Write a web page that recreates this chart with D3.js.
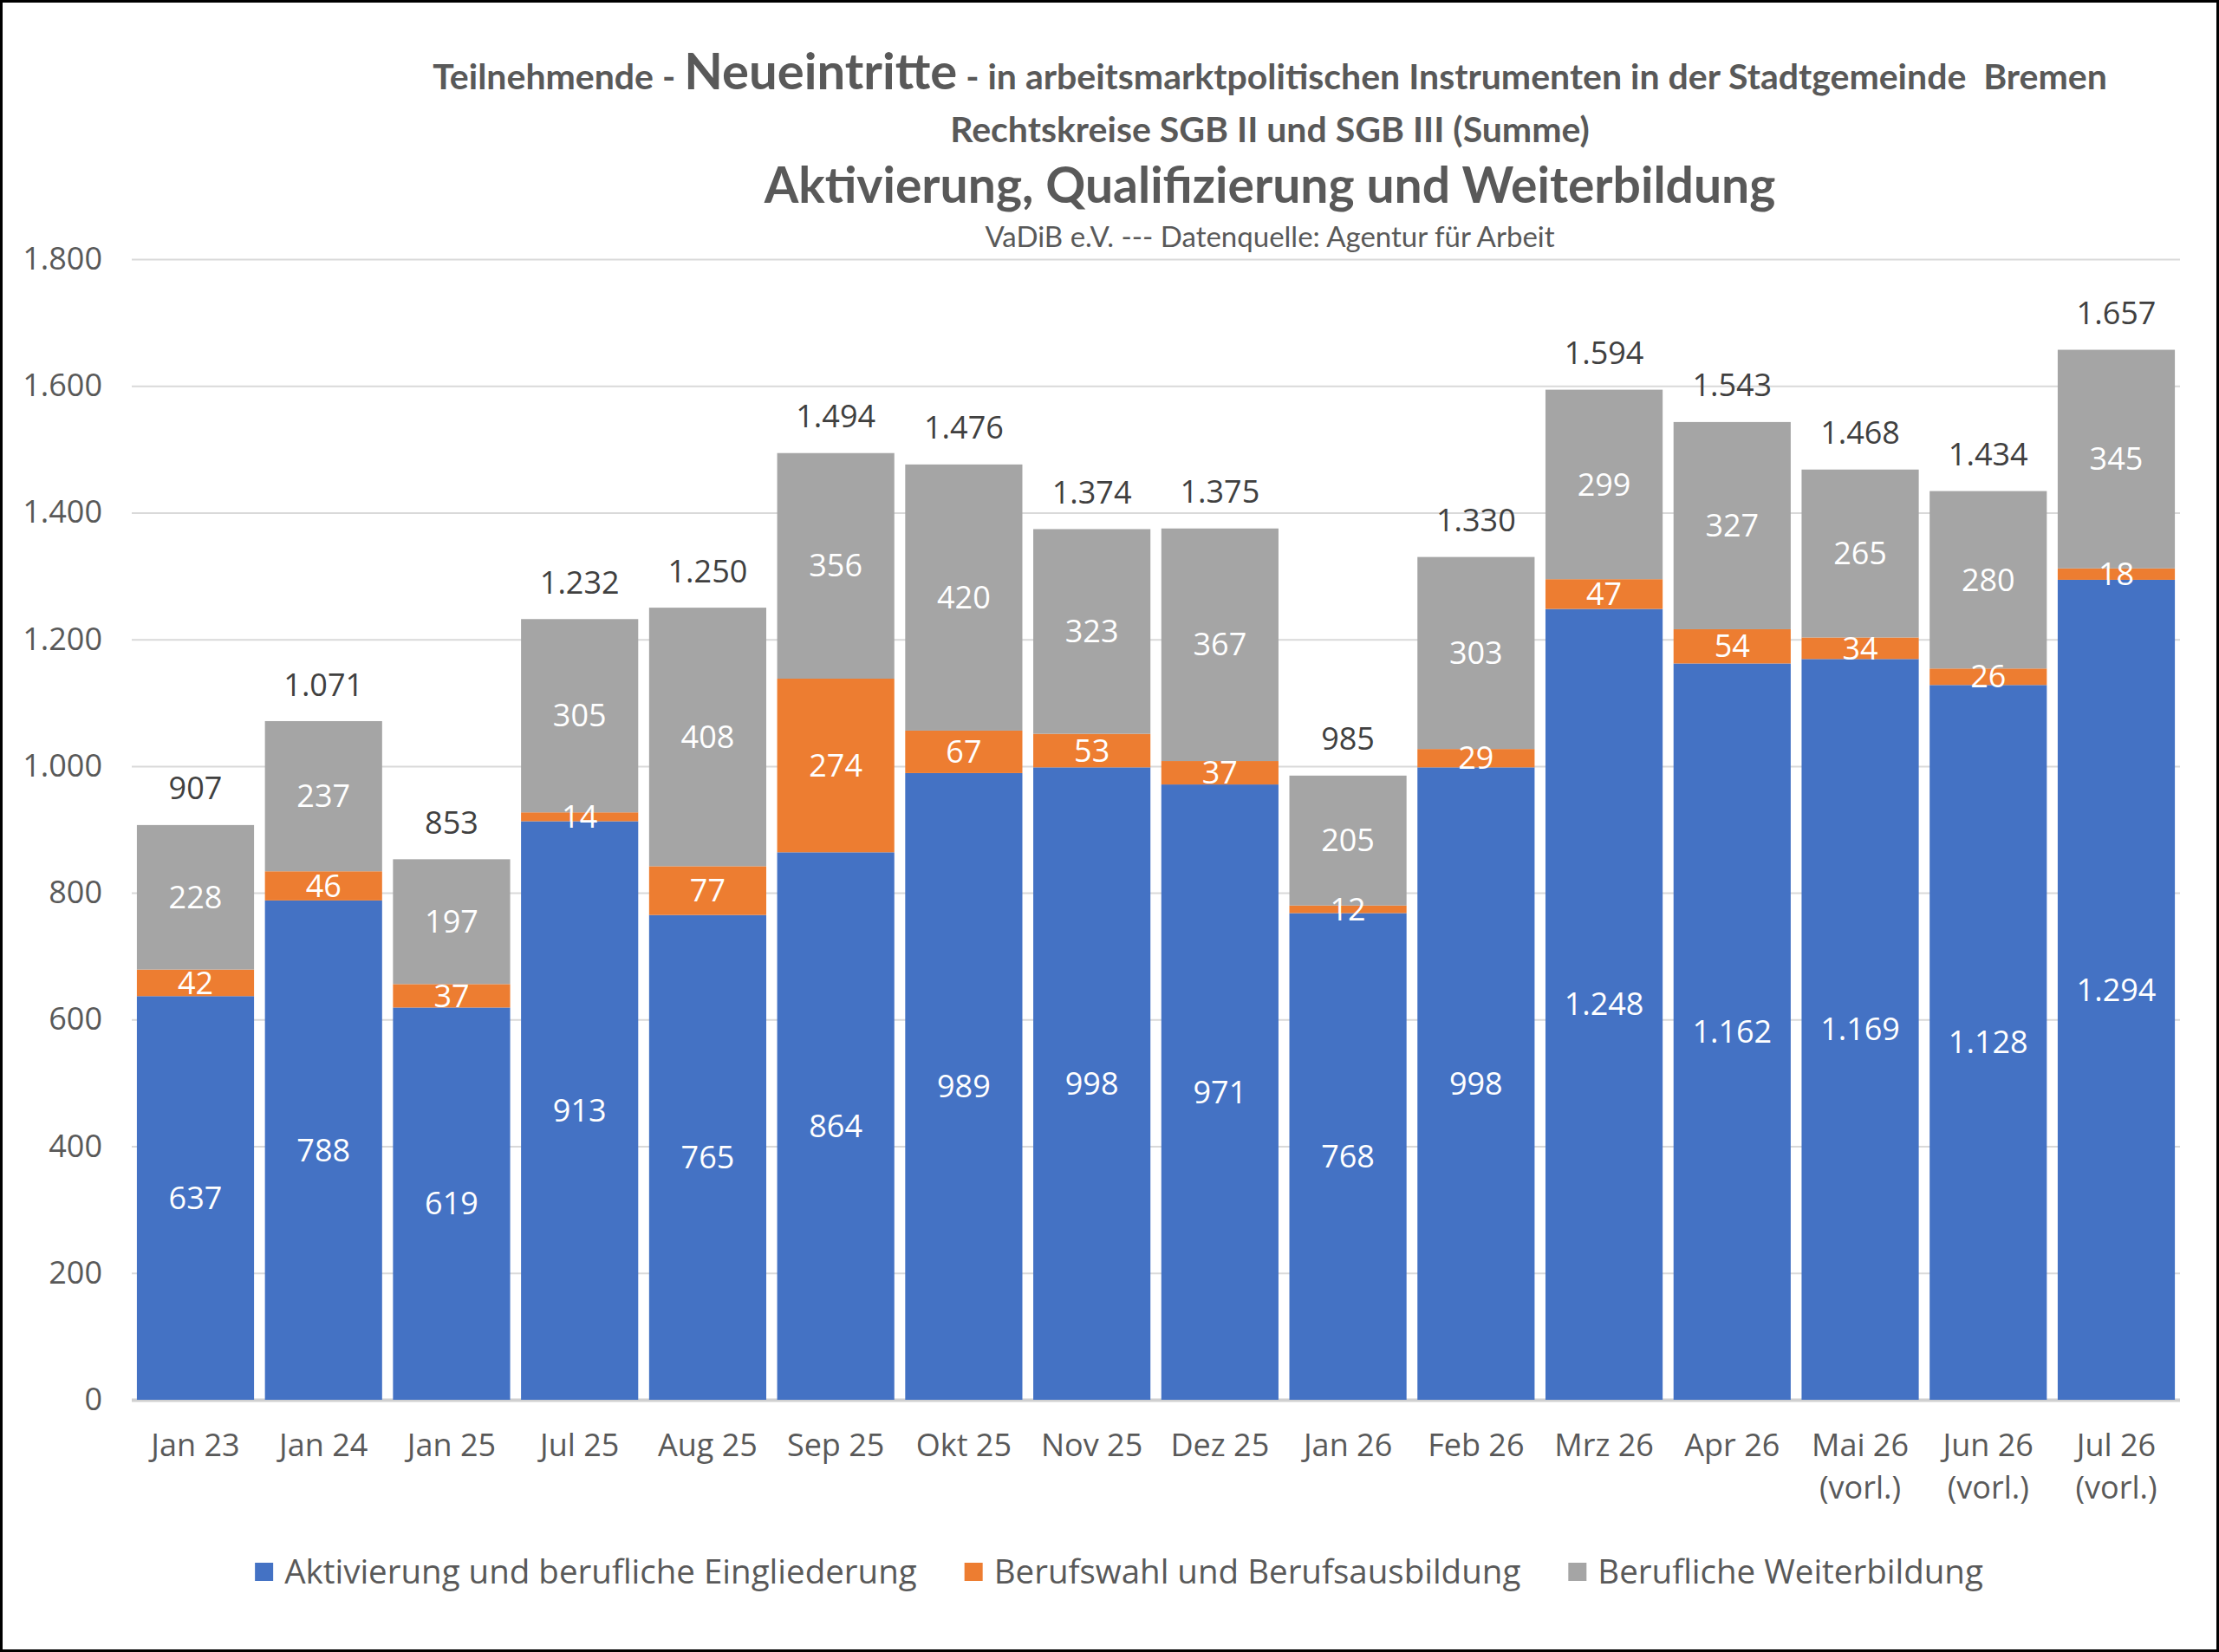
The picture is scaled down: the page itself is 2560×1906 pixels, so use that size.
<!DOCTYPE html>
<html>
<head>
<meta charset="utf-8">
<script src="https://cdn.jsdelivr.net/npm/d3@7"></script>
<style>
  body { margin: 0; background: #fff; }
  svg { display: block; }
</style>
</head>
<body>
<svg width="2560" height="1906"></svg>
<script>
// months, "|" marks a line break in the axis label
const categories = ["Jan 23", "Jan 24", "Jan 25", "Jul 25", "Aug 25", "Sep 25", "Okt 25", "Nov 25",
  "Dez 25", "Jan 26", "Feb 26", "Mrz 26", "Apr 26", "Mai 26|(vorl.)", "Jun 26|(vorl.)", "Jul 26|(vorl.)"];
const aktivierung = [637, 788, 619, 913, 765, 864, 989, 998, 971, 768, 998, 1248, 1162, 1169, 1128, 1294];
const berufswahl = [42, 46, 37, 14, 77, 274, 67, 53, 37, 12, 29, 47, 54, 34, 26, 18];
const weiterbildung = [228, 237, 197, 305, 408, 356, 420, 323, 367, 205, 303, 299, 327, 265, 280, 345];
const seriesNames = ["Aktivierung und berufliche Eingliederung", "Berufswahl und Berufsausbildung", "Berufliche Weiterbildung"];
const seriesColors = ["#4472C4", "#ED7D31", "#A5A5A5"];
const yTicks = [0, 200, 400, 600, 800, 1000, 1200, 1400, 1600, 1800];

const svg = d3.select("svg");
const width = +svg.attr("width");
const height = +svg.attr("height");

const de = d3.formatLocale({decimal: ",", thousands: ".", grouping: [3], currency: ["", " €"]});
const fmt = de.format(",d");

const rows = categories.map((c, i) => ({cat: c, a: aktivierung[i], b: berufswahl[i], w: weiterbildung[i]}));
const keys = ["a", "b", "w"];
const stacked = d3.stack().keys(keys)(rows);

const x = d3.scaleBand().domain(categories).range([152, 2515]).paddingInner(0.085).paddingOuter(0.04);
const y = d3.scaleLinear().domain([0, 1800]).range([1615, 299]);

svg.append("rect").attr("width", width).attr("height", height).attr("fill", "#fff")
  .attr("stroke", "#000").attr("stroke-width", 6);

// title block
const titleX = 1465;
const titleFont = "Lato, 'Open Sans', sans-serif";
const t1 = svg.append("text").attr("x", titleX).attr("y", 103).attr("text-anchor", "middle")
  .attr("fill", "#595959").attr("font-family", titleFont).attr("font-weight", "bold")
  .style("white-space", "pre");
t1.append("tspan").attr("font-size", 41).text("Teilnehmende - ");
t1.append("tspan").attr("font-size", 58).text("Neueintritte");
t1.append("tspan").attr("font-size", 41).text(" - in arbeitsmarktpolitischen Instrumenten in der Stadtgemeinde  Bremen");

svg.append("text").attr("x", titleX).attr("y", 164).attr("text-anchor", "middle")
  .attr("fill", "#595959").attr("font-family", titleFont).attr("font-weight", "bold")
  .attr("font-size", 41).text("Rechtskreise SGB II und SGB III (Summe)");

svg.append("text").attr("x", titleX).attr("y", 234).attr("text-anchor", "middle")
  .attr("fill", "#595959").attr("font-family", titleFont).attr("font-weight", "bold")
  .attr("font-size", 57).text("Aktivierung, Qualifizierung und Weiterbildung");

svg.append("text").attr("x", titleX).attr("y", 285).attr("text-anchor", "middle")
  .attr("fill", "#595959").attr("font-family", titleFont)
  .attr("font-size", 33).text("VaDiB e.V. --- Datenquelle: Agentur für Arbeit");

// gridlines + y axis labels
const yAxis = svg.append("g").attr("transform", "translate(152,0)")
  .call(d3.axisLeft(y).tickValues(yTicks).tickSize(-(2515 - 152)).tickPadding(34).tickFormat(fmt));
yAxis.select(".domain").remove();
yAxis.selectAll(".tick line").attr("stroke", d => d === 0 ? "#D0D0D0" : "#D9D9D9").attr("stroke-width", d => d === 0 ? 4 : 2);
yAxis.selectAll(".tick text").attr("fill", "#595959").attr("font-family", "'Open Sans', sans-serif").attr("font-size", 36);

// bars
const groups = svg.append("g").selectAll("g").data(stacked).join("g")
  .attr("fill", (d, i) => seriesColors[i]);
groups.selectAll("rect").data(d => d).join("rect")
  .attr("x", d => x(d.data.cat))
  .attr("width", x.bandwidth())
  .attr("y", d => y(d[1]))
  .attr("height", d => y(d[0]) - y(d[1]));

// segment labels
const labels = svg.append("g").attr("font-family", "'Open Sans', sans-serif").attr("font-size", 36)
  .attr("fill", "#fff").attr("text-anchor", "middle");
stacked.forEach(s => {
  labels.selectAll(null).data(s).join("text")
    .attr("x", d => x(d.data.cat) + x.bandwidth() / 2)
    .attr("y", d => y((d[0] + d[1]) / 2))
    .attr("dy", "0.35em")
    .text(d => fmt(d[1] - d[0]));
});

// totals above bars
svg.append("g").attr("font-family", "'Open Sans', sans-serif").attr("font-size", 36)
  .attr("fill", "#404040").attr("text-anchor", "middle")
  .selectAll("text").data(rows).join("text")
  .attr("x", d => x(d.cat) + x.bandwidth() / 2)
  .attr("y", d => y(d.a + d.b + d.w) - 42)
  .attr("dy", "0.35em")
  .text(d => fmt(d.a + d.b + d.w));

// x axis labels
const xLab = svg.append("g").attr("font-family", "'Open Sans', sans-serif").attr("font-size", 36)
  .attr("fill", "#595959").attr("text-anchor", "middle")
  .selectAll("text").data(categories).join("text")
  .attr("x", d => x(d) + x.bandwidth() / 2)
  .attr("y", 1680);
xLab.selectAll("tspan").data(d => d.split("|")).join("tspan")
  .attr("x", function() { return this.parentNode.getAttribute("x"); })
  .attr("dy", (d, i) => i === 0 ? 0 : 49)
  .text(d => d);

// legend
const legend = svg.append("g").attr("font-family", "'Open Sans', sans-serif").attr("font-size", 38.5).attr("fill", "#595959");
let lx = 0;
seriesNames.forEach((name, i) => {
  const g = legend.append("g").attr("transform", `translate(${lx},0)`);
  g.append("rect").attr("x", 0).attr("y", -11).attr("width", 21).attr("height", 21).attr("fill", seriesColors[i]);
  const t = g.append("text").attr("x", 34).attr("y", 0).attr("dy", "0.35em").text(name);
  lx += 34 + t.node().getComputedTextLength() + 55;
});
const legendW = lx - 55;
legend.attr("transform", `translate(${1291 - legendW / 2},1814)`);
</script>
</body>
</html>
